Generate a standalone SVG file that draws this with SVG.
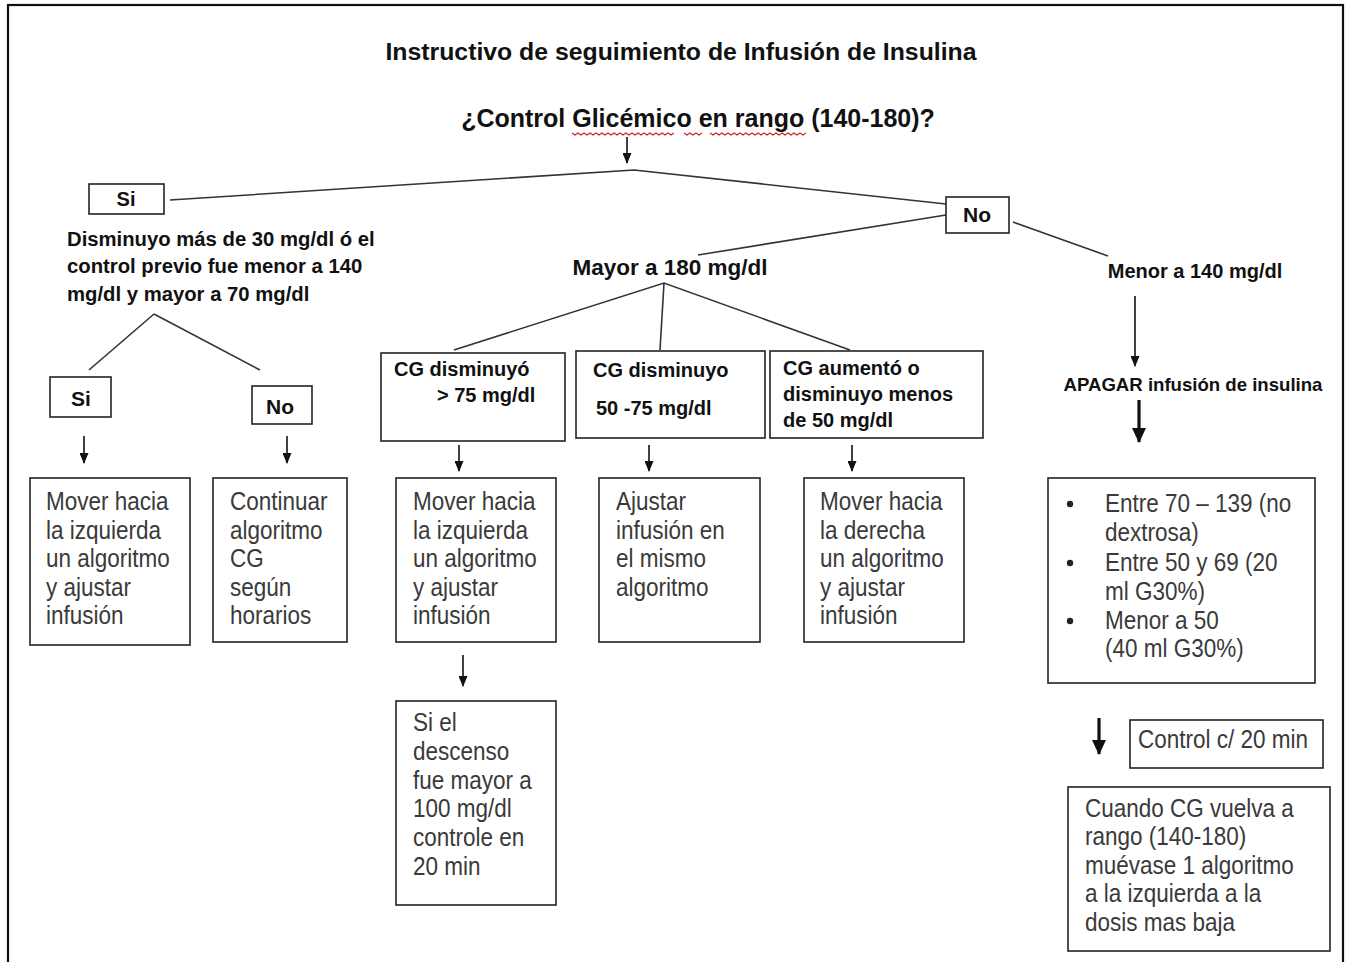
<svg xmlns="http://www.w3.org/2000/svg" width="1347" height="962" viewBox="0 0 1347 962">
<style>
.b{font-family:"Liberation Sans",Arial,sans-serif;font-weight:bold;fill:#111}
.r{font-family:"Liberation Sans",Arial,sans-serif;fill:#3a3a3a;font-size:25px}
.box{fill:#fff;stroke:#222;stroke-width:1.6}
.ln{stroke:#333;stroke-width:1.6;fill:none}
.ar{stroke:#111;stroke-width:1.6;fill:none;marker-end:url(#ah)}
.art{stroke:#111;stroke-width:3.2;fill:none;marker-end:url(#ahb)}
.sq{stroke:#d02020;stroke-width:1.1;fill:none}
</style>
<defs>
<marker id="ah" markerUnits="userSpaceOnUse" markerWidth="11" markerHeight="9" refX="10" refY="4.5" orient="auto" viewBox="0 0 11 9">
<path d="M0,0 L11,4.5 L0,9 Z" fill="#111"/>
</marker>
<marker id="ahb" markerUnits="userSpaceOnUse" markerWidth="15" markerHeight="14" refX="14" refY="7" orient="auto" viewBox="0 0 15 14">
<path d="M0,0 L15,7 L0,14 Z" fill="#111"/>
</marker>
</defs>
<rect width="1347" height="962" fill="#fff"/>
<rect x="8" y="5" width="1335" height="980" fill="none" stroke="#111" stroke-width="2.2"/>

<g id="title">
<text class="b" x="681" y="60" font-size="24.8" text-anchor="middle">Instructivo de seguimiento de Infusión de Insulina</text>
</g>
<g id="question">
<text class="b" x="698" y="127" font-size="25" text-anchor="middle">¿Control Glicémico en rango (140-180)?</text>
<path class="sq" d="M572,133 l3,2 l3,-2 l3,2 l3,-2 l3,2 l3,-2 l3,2 l3,-2 l3,2 l3,-2 l3,2 l3,-2 l3,2 l3,-2 l3,2 l3,-2 l3,2 l3,-2 l3,2 l3,-2 l3,2 l3,-2 l3,2 l3,-2 l3,2 l3,-2 l3,2 l3,-2 l3,2 l3,-2 l3,2 l3,-2 l3,2 l3,-2"/>
<path class="sq" d="M684,133 l3,2 l3,-2 l3,2 l3,-2 l3,2 l3,-2"/>
<path class="sq" d="M710,133 l3,2 l3,-2 l3,2 l3,-2 l3,2 l3,-2 l3,2 l3,-2 l3,2 l3,-2 l3,2 l3,-2 l3,2 l3,-2 l3,2 l3,-2 l3,2 l3,-2 l3,2 l3,-2 l3,2 l3,-2 l3,2 l3,-2 l3,2 l3,-2 l3,2 l3,-2 l3,2 l3,-2 l3,2 l3,-2"/>
</g>

<g id="connectors">
<line class="ar" x1="627" y1="137" x2="627" y2="163"/>
<polyline class="ln" points="170,200 634,170 946,204"/>
<line class="ln" x1="946" y1="215" x2="698" y2="255"/>
<line class="ln" x1="1013" y1="222" x2="1108" y2="256"/>
<line class="ln" x1="89" y1="370" x2="154" y2="314"/>
<line class="ln" x1="154" y1="314" x2="260" y2="370"/>
<polyline class="ln" points="454,350 664,283 850,350"/>
<line class="ln" x1="664" y1="283" x2="660" y2="350"/>
<line class="ar" x1="84" y1="436" x2="84" y2="463"/>
<line class="ar" x1="287" y1="436" x2="287" y2="463"/>
<line class="ar" x1="459" y1="445" x2="459" y2="471"/>
<line class="ar" x1="649" y1="445" x2="649" y2="471"/>
<line class="ar" x1="852" y1="445" x2="852" y2="471"/>
<line class="ar" x1="463" y1="655" x2="463" y2="686"/>
<line class="ar" x1="1135" y1="296" x2="1135" y2="366"/>
<line class="art" x1="1139" y1="400" x2="1139" y2="442"/>
<line class="art" x1="1099" y1="718" x2="1099" y2="754"/>
</g>

<g id="si-top">
<rect class="box" x="89" y="184" width="75" height="30"/>
<text class="b" x="126" y="206" font-size="20" text-anchor="middle">Si</text>
</g>
<g id="no-top">
<rect class="box" x="946" y="197" width="63" height="36"/>
<text class="b" x="977" y="222" font-size="21" text-anchor="middle">No</text>
</g>
<g id="disminuyo">
<text class="b" font-size="20.3"><tspan x="67" y="246">Disminuyo más de 30 mg/dl ó el</tspan><tspan x="67" y="273">control previo fue menor a 140</tspan><tspan x="67" y="301">mg/dl y mayor a 70 mg/dl</tspan></text>
</g>
<g id="si-2">
<rect class="box" x="50" y="377" width="61" height="40"/>
<text class="b" x="81" y="406" font-size="21" text-anchor="middle">Si</text>
</g>
<g id="no-2">
<rect class="box" x="252" y="386" width="60" height="38"/>
<text class="b" x="280" y="414" font-size="21" text-anchor="middle">No</text>
</g>
<g id="mayor180">
<text class="b" x="670" y="275" font-size="22.5" text-anchor="middle">Mayor a 180 mg/dl</text>
</g>
<g id="menor140">
<text class="b" x="1195" y="278" font-size="20" text-anchor="middle">Menor a 140 mg/dl</text>
</g>
<g id="apagar">
<text class="b" x="1193" y="391" font-size="18.6" text-anchor="middle">APAGAR infusión de insulina</text>
</g>

<g id="cg1">
<rect class="box" x="381" y="353" width="184" height="88"/>
<text class="b" font-size="20"><tspan x="394" y="376">CG disminuyó</tspan><tspan x="437" y="402">&gt; 75 mg/dl</tspan></text>
</g>
<g id="cg2">
<rect class="box" x="576" y="351" width="189" height="87"/>
<text class="b" font-size="20"><tspan x="593" y="377">CG disminuyo</tspan><tspan x="596" y="415">50 -75 mg/dl</tspan></text>
</g>
<g id="cg3">
<rect class="box" x="770" y="351" width="213" height="87"/>
<text class="b" font-size="20"><tspan x="783" y="375">CG aumentó o</tspan><tspan x="783" y="401">disminuyo  menos</tspan><tspan x="783" y="427">de 50 mg/dl</tspan></text>
</g>

<g id="box-a">
<rect class="box" x="30" y="478" width="160" height="167"/>
<text class="r" transform="translate(46 0) scale(0.9 1)"><tspan x="0" y="510">Mover hacia</tspan><tspan x="0" y="539">la izquierda</tspan><tspan x="0" y="567">un algoritmo</tspan><tspan x="0" y="596">y ajustar</tspan><tspan x="0" y="624">infusión</tspan></text>
</g>
<g id="box-b">
<rect class="box" x="213" y="478" width="134" height="164"/>
<text class="r" transform="translate(230 0) scale(0.9 1)"><tspan x="0" y="510">Continuar</tspan><tspan x="0" y="539">algoritmo</tspan><tspan x="0" y="567">CG</tspan><tspan x="0" y="596">según</tspan><tspan x="0" y="624">horarios</tspan></text>
</g>
<g id="box-c">
<rect class="box" x="396" y="478" width="160" height="164"/>
<text class="r" transform="translate(413 0) scale(0.9 1)"><tspan x="0" y="510">Mover hacia</tspan><tspan x="0" y="539">la izquierda</tspan><tspan x="0" y="567">un algoritmo</tspan><tspan x="0" y="596">y ajustar</tspan><tspan x="0" y="624">infusión</tspan></text>
</g>
<g id="box-d">
<rect class="box" x="599" y="478" width="161" height="164"/>
<text class="r" transform="translate(616 0) scale(0.9 1)"><tspan x="0" y="510">Ajustar</tspan><tspan x="0" y="539">infusión en</tspan><tspan x="0" y="567">el mismo</tspan><tspan x="0" y="596">algoritmo</tspan></text>
</g>
<g id="box-e">
<rect class="box" x="804" y="478" width="160" height="164"/>
<text class="r" transform="translate(820 0) scale(0.9 1)"><tspan x="0" y="510">Mover hacia</tspan><tspan x="0" y="539">la derecha</tspan><tspan x="0" y="567">un algoritmo</tspan><tspan x="0" y="596">y ajustar</tspan><tspan x="0" y="624">infusión</tspan></text>
</g>
<g id="box-f">
<rect class="box" x="1048" y="478" width="267" height="205"/>
<circle cx="1070" cy="504" r="3.2" fill="#222"/>
<circle cx="1070" cy="563" r="3.2" fill="#222"/>
<circle cx="1070" cy="621" r="3.2" fill="#222"/>
<text class="r" transform="translate(1105 0) scale(0.9 1)"><tspan x="0" y="512">Entre 70 – 139 (no</tspan><tspan x="0" y="541">dextrosa)</tspan><tspan x="0" y="571">Entre 50 y 69 (20</tspan><tspan x="0" y="600">ml G30%)</tspan><tspan x="0" y="629">Menor a 50</tspan><tspan x="0" y="657">(40 ml G30%)</tspan></text>
</g>
<g id="box-g">
<rect class="box" x="396" y="701" width="160" height="204"/>
<text class="r" transform="translate(413 0) scale(0.9 1)"><tspan x="0" y="731">Si el</tspan><tspan x="0" y="760">descenso</tspan><tspan x="0" y="789">fue mayor a</tspan><tspan x="0" y="817">100 mg/dl</tspan><tspan x="0" y="846">controle en</tspan><tspan x="0" y="875">20 min</tspan></text>
</g>
<g id="control20">
<rect class="box" x="1130" y="720" width="193" height="48"/>
<text class="r" transform="translate(1223 0) scale(0.9 1)" x="0" y="748" font-size="20" text-anchor="middle">Control c/ 20 min</text>
</g>
<g id="box-h">
<rect class="box" x="1068" y="787" width="262" height="164"/>
<text class="r" transform="translate(1085 0) scale(0.9 1)"><tspan x="0" y="817">Cuando CG vuelva a</tspan><tspan x="0" y="845">rango (140-180)</tspan><tspan x="0" y="874">muévase 1 algoritmo</tspan><tspan x="0" y="902">a la izquierda a la</tspan><tspan x="0" y="931">dosis mas baja</tspan></text>
</g>
</svg>
